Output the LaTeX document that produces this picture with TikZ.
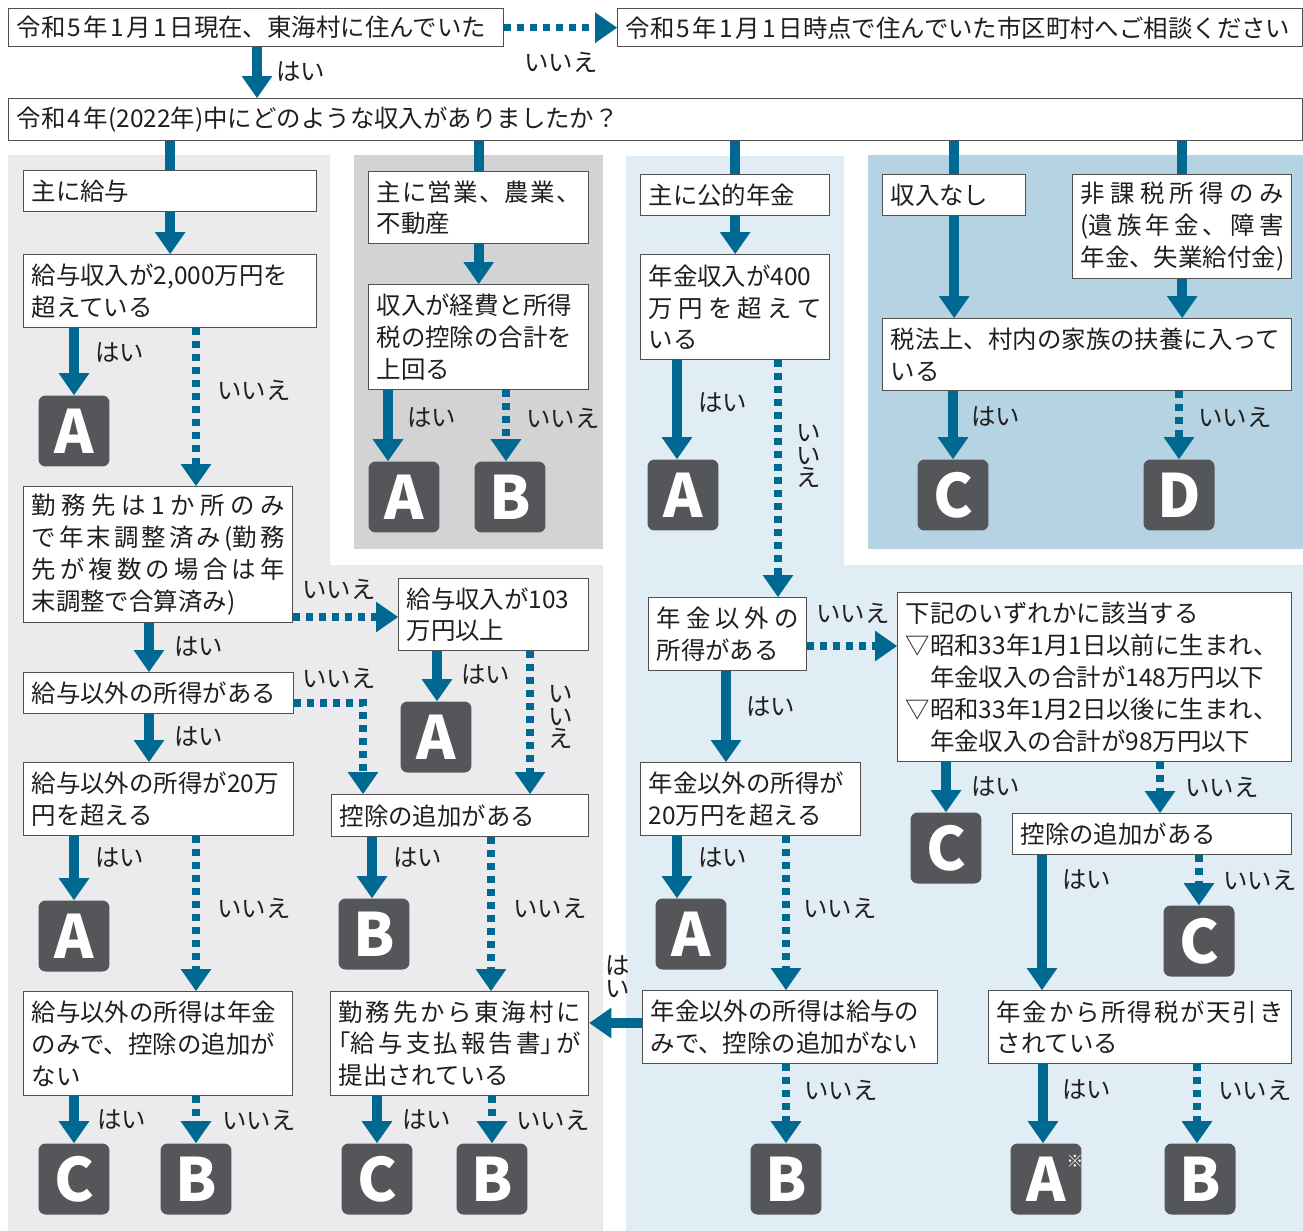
\documentclass[tikz,border=0pt]{standalone}
\usepackage{fontspec}
\usetikzlibrary{arrows.meta, positioning}
\usepackage{xcolor}
\newfontfamily\jpfont{Noto Sans CJK JP}
\definecolor{arrowblue}{RGB}{0,105,145}
\definecolor{dkgray}{RGB}{85,86,89}
\definecolor{panelgray}{RGB}{235,235,237}
\definecolor{midgray}{RGB}{211,211,213}
\definecolor{paleblue}{RGB}{224,237,244}
\definecolor{skyblue}{RGB}{181,211,227}
\definecolor{boxline}{RGB}{80,80,80}
\definecolor{txt}{RGB}{35,30,30}
\newcommand{\dg}[1]{\hspace{0.1em}#1\hspace{0.1em}}
% spread the characters of one line over the full width
\makeatletter
\newcommand{\spr}[1]{\makebox[\linewidth][s]{\let\spr@g\relax\@tfor\spr@c:=#1\do{\spr@g\spr@c\def\spr@g{\hskip 0pt plus 1fil\relax}}}}
\makeatother

\begin{document}
\begin{tikzpicture}[x=0.02cm, y=-0.02cm, >=latex]
	\tikzstyle{box} = [draw=boxline, line width=0.8pt, fill=white, anchor=north west, align=left, inner xsep=0.16cm, inner ysep=0.05cm, text=txt, font=\jpfont\fontsize{13.9}{18.1}\selectfont]
	\tikzstyle{grade} = [fill=dkgray, rounded corners=0.14cm, minimum size=1.42cm, inner sep=0pt, text=white, font=\jpfont\bfseries\fontsize{34}{34}\selectfont]
	\tikzstyle{lbl} = [anchor=west, inner sep=0pt, text=txt, font=\jpfont\fontsize{13.9}{18.1}\selectfont]
	\tikzstyle{vlbl} = [inner sep=0pt, align=center, text=txt, font=\jpfont\fontsize{13.9}{13}\selectfont]
	\tikzstyle{trunk} = [draw=arrowblue, line width=5.7pt]
	\tikzstyle{yesarrow} = [trunk, -{Triangle[width=17.5pt, length=12.5pt, line width=0pt]}]
	\tikzstyle{noarrow} = [draw=arrowblue, line width=4pt, dash pattern=on 3.6pt off 3.8pt, -{Triangle[width=17.5pt, length=12.5pt, line width=0pt]}]

	\path[use as bounding box, fill=white] (0,0) rectangle (1303,1231);

	% panels
	\fill[panelgray] (8,155) -- (330,155) -- (330,565) -- (603,565) -- (603,1231) -- (8,1231) -- cycle;
	\fill[midgray] (354,155) rectangle (603,549);
	\fill[paleblue] (626,156) -- (844,156) -- (844,565) -- (1303,565) -- (1303,1231) -- (626,1231) -- cycle;
	\fill[skyblue] (868,155) rectangle (1303,549);

	% top
	\node[box, text width=9.58cm, minimum height=0.76cm] at (8,8) (r1) {令和\dg{5}年\dg{1}月\dg{1}日現在、東海村に住んでいた};
	\node[box, text width=13.38cm, minimum height=0.76cm] at (617,8) (r2) {令和\dg{5}年\dg{1}月\dg{1}日時点で住んでいた市区町村へご相談ください};
	\node[box, text width=25.56cm, minimum height=0.84cm] at (8,98) (r3) {令和\dg{4}年(2022年)中にどのような収入がありましたか？};

	% salary
	\node[box, text width=5.54cm, minimum height=0.82cm] at (23,170) (g1) {主に給与};
	\node[box, text width=5.54cm, minimum height=1.46cm] at (23,254) (g2) {給与収入が2,000万円を\\超えている};
	\node[box, text width=5.06cm, minimum height=2.72cm] at (23,486) (g3) {\spr{勤務先は1か所のみ}\\\spr{で年末調整済み{(勤}務}\\\spr{先が複数の場合は年}\\末調整で合算済み)};
	\node[box, text width=5.08cm, minimum height=0.82cm] at (23,672) (g4) {給与以外の所得がある};
	\node[box, text width=5.08cm, minimum height=1.46cm] at (23,762) (g5) {給与以外の所得が20万\\円を超える};
	\node[box, text width=5.06cm, minimum height=2.08cm] at (23,991) (g6) {給与以外の所得は年金\\のみで、控除の追加が\\ない};
	\node[box, text width=3.48cm, minimum height=1.44cm] at (398,578) (g7) {給与収入が103\\万円以上};
	\node[box, text width=4.82cm, minimum height=0.84cm] at (331,794) (g8) {控除の追加がある};
	\node[box, text width=4.84cm, minimum height=2.08cm] at (330,991) (g9) {\spr{勤務先から東海村に}\\\spr{{\hspace*{-0.5em}「給}与支払報告{書」\hspace{-0.5em}}が}\\提出されている};

	% business
	\node[box, text width=4.08cm, minimum height=1.44cm] at (368,171) (m1) {\spr{主に営業、農業、}\\不動産};
	\node[box, text width=4.08cm, minimum height=2.10cm] at (368,284) (m2) {収入が経費と所得\\税の控除の合計を\\上回る};

	% pension
	\node[box, text width=3.46cm, minimum height=0.82cm] at (640,174) (p1) {主に公的年金};
	\node[box, text width=3.46cm, minimum height=2.10cm] at (640,254) (p2) {年金収入が400\\\spr{万円を超えて}\\いる};
	\node[box, text width=2.84cm, minimum height=1.46cm] at (648,597) (p3) {\spr{年金以外の}\\所得がある};
	\node[box, text width=7.56cm, minimum height=3.38cm] at (897,592) (p4) {下記のいずれかに該当する\\▽昭和33年1月1日以前に生まれ、\\\hspace*{1em}年金収入の合計が148万円以下\\▽昭和33年1月2日以後に生まれ、\\\hspace*{1em}年金収入の合計が98万円以下};
	\node[box, text width=4.08cm, minimum height=1.46cm] at (640,762) (p5) {年金以外の所得が\\20万円を超える};
	\node[box, text width=5.26cm, minimum height=0.82cm] at (1012,813) (p6) {控除の追加がある};
	\node[box, text width=5.58cm, minimum height=1.46cm] at (642,990) (p7) {年金以外の所得は給与の\\みで、控除の追加がない};
	\node[box, text width=5.74cm, minimum height=1.46cm] at (988,990) (p8) {\spr{年金から所得税が天引き}\\されている};

	% no income
	\node[box, text width=2.54cm, minimum height=0.82cm] at (882,174) (n1) {収入なし};
	\node[box, text width=4.06cm, minimum height=2.08cm] at (1072,174) (n2) {\spr{非課税所得のみ}\\\spr{{(遺}族年金、障害}\\年金、失業給付金)};
	\node[box, text width=7.86cm, minimum height=1.44cm] at (882,318) (n3) {税法上、村内の家族の扶養に入って\\いる};

	% results
	\node[grade] at (74,431) (a1) {A};
	\node[grade] at (404,497) (a2) {A};
	\node[grade] at (510,497) (b2) {B};
	\node[grade] at (683,495) (a3) {A};
	\node[grade] at (953,495) (c4) {C};
	\node[grade] at (1179,495) (d4) {D};
	\node[grade] at (436,737) (a5) {A};
	\node[grade] at (74,936) (a6) {A};
	\node[grade] at (374,934) (b7) {B};
	\node[grade] at (74,1179) (c8) {C};
	\node[grade] at (196,1179) (b9) {B};
	\node[grade] at (377,1179) (c10) {C};
	\node[grade] at (492,1179) (b11) {B};
	\node[grade] at (946,848) (c12) {C};
	\node[grade] at (691,934) (a13) {A};
	\node[grade] at (1199,941) (c14) {C};
	\node[grade] at (786,1179) (b15) {B};
	\node[grade] at (1046,1179) (a16) {A\rlap{\smash{\hspace{0.5pt}\raisebox{19pt}{\mdseries\fontsize{9.5}{9.5}\selectfont ※}}}};
	\node[grade] at (1200,1179) (b17) {B};

	% top arrows
	\draw[noarrow] (r1.east) -- (r2.west);
	\draw[yesarrow] (r1.south -| 257,0) -- (r3.north -| 257,0);
	\draw[trunk] (r3.south -| g1.north) -- (g1.north);
	\draw[trunk] (r3.south -| m1.north) -- (m1.north);
	\draw[trunk] (r3.south -| p1.north) -- (p1.north);
	\draw[trunk] (r3.south -| n1.north) -- (n1.north);
	\draw[trunk] (r3.south -| n2.north) -- (n2.north);

	% salary arrows
	\draw[yesarrow] (g1) -- (g2);
	\draw[yesarrow] (g2.south -| a1.north) -- (a1.north);
	\draw[noarrow] (g2.south -| 196,0) -- (g3.north -| 196,0);
	\draw[yesarrow] (g3.south -| 149,0) -- (g4.north -| 149,0);
	\draw[noarrow] (g3.east |- 0,617) -- (g7.west |- 0,617);
	\draw[yesarrow] (g4.south -| 149,0) -- (g5.north -| 149,0);
	\draw[noarrow] (g4.east |- 0,703) -| (g8.north -| 363,0);
	\draw[yesarrow] (g7.south -| 437,0) -- (a5.north -| 437,0);
	\draw[noarrow] (g7.south -| 530,0) -- (g8.north -| 530,0);
	\draw[yesarrow] (g5.south -| a6.north) -- (a6.north);
	\draw[noarrow] (g5.south -| 196,0) -- (g6.north -| 196,0);
	\draw[yesarrow] (g8.south -| 372,0) -- (b7.north -| 372,0);
	\draw[noarrow] (g8.south -| 491,0) -- (g9.north -| 491,0);
	\draw[yesarrow] (g6.south -| c8.north) -- (c8.north);
	\draw[noarrow] (g6.south -| b9.north) -- (b9.north);
	\draw[yesarrow] (g9.south -| c10.north) -- (c10.north);
	\draw[noarrow] (g9.south -| b11.north) -- (b11.north);

	% business arrows
	\draw[yesarrow] (m1) -- (m2);
	\draw[yesarrow] (m2.south -| 388,0) -- (a2.north -| 388,0);
	\draw[noarrow] (m2.south -| 506,0) -- (b2.north -| 506,0);

	% pension arrows
	\draw[yesarrow] (p1) -- (p2);
	\draw[yesarrow] (p2.south -| 677,0) -- (a3.north -| 677,0);
	\draw[noarrow] (p2.south -| 778,0) -- (p3.north -| 778,0);
	\draw[yesarrow] (p3.south -| 726,0) -- (p5.north -| 726,0);
	\draw[noarrow] (p3.east |- 0,646) -- (p4.west |- 0,646);
	\draw[yesarrow] (p5.south -| 677,0) -- (a13.north -| 677,0);
	\draw[noarrow] (p5.south -| 786,0) -- (p7.north -| 786,0);
	\draw[yesarrow] (p4.south -| c12.north) -- (c12.north);
	\draw[noarrow] (p4.south -| 1160,0) -- (p6.north -| 1160,0);
	\draw[yesarrow] (p6.south -| 1042,0) -- (p8.north -| 1042,0);
	\draw[noarrow] (p6.south -| c14.north) -- (c14.north);
	\draw[yesarrow] (p7.west |- 0,1023) -- (g9.east |- 0,1023);
	\draw[noarrow] (p7.south -| b15.north) -- (b15.north);
	\draw[yesarrow] (p8.south -| 1043,0) -- (a16.north -| 1043,0);
	\draw[noarrow] (p8.south -| 1197,0) -- (b17.north -| 1197,0);

	% no income arrows
	\draw[yesarrow] (n1.south) -- (n3.north -| n1.south);
	\draw[yesarrow] (n2.south) -- (n3.north -| n2.south);
	\draw[yesarrow] (n3.south -| c4.north) -- (c4.north);
	\draw[noarrow] (n3.south -| d4.north) -- (d4.north);

	% labels
	\node[lbl] at (276,72) (l1) {はい};
	\node[lbl] at (524,62) (l2) {いいえ};
	\node[lbl] at (95,353) (l3) {はい};
	\node[lbl] at (217,390) (l4) {いいえ};
	\node[lbl] at (407,418) (l5) {はい};
	\node[lbl] at (526,418) (l6) {いいえ};
	\node[lbl] at (698,403) (l7) {はい};
	\node[vlbl] at (809,456) (l8) {い\\い\\え};
	\node[lbl] at (971,417) (l9) {はい};
	\node[lbl] at (1198,417) (l10) {いいえ};
	\node[lbl] at (302,589) (l11) {いいえ};
	\node[lbl] at (174,647) (l12) {はい};
	\node[lbl] at (461,675) (l13) {はい};
	\node[vlbl] at (561,717) (l14) {い\\い\\え};
	\node[lbl] at (302,678) (l15) {いいえ};
	\node[lbl] at (174,737) (l16) {はい};
	\node[lbl] at (816,613) (l17) {いいえ};
	\node[lbl] at (746,707) (l18) {はい};
	\node[lbl] at (971,787) (l19) {はい};
	\node[lbl] at (1185,787) (l20) {いいえ};
	\node[lbl] at (95,858) (l21) {はい};
	\node[lbl] at (217,908) (l22) {いいえ};
	\node[lbl] at (393,858) (l23) {はい};
	\node[lbl] at (513,908) (l24) {いいえ};
	\node[lbl] at (698,858) (l25) {はい};
	\node[lbl] at (803,908) (l26) {いいえ};
	\node[lbl] at (1062,880) (l27) {はい};
	\node[lbl] at (1223,880) (l28) {いいえ};
	\node[vlbl] at (618,977) (l29) {は\\い};
	\node[lbl] at (97,1120) (l30) {はい};
	\node[lbl] at (222,1120) (l31) {いいえ};
	\node[lbl] at (402,1120) (l32) {はい};
	\node[lbl] at (516,1120) (l33) {いいえ};
	\node[lbl] at (804,1090) (l34) {いいえ};
	\node[lbl] at (1062,1090) (l35) {はい};
	\node[lbl] at (1218,1090) (l36) {いいえ};
\end{tikzpicture}
\end{document}
